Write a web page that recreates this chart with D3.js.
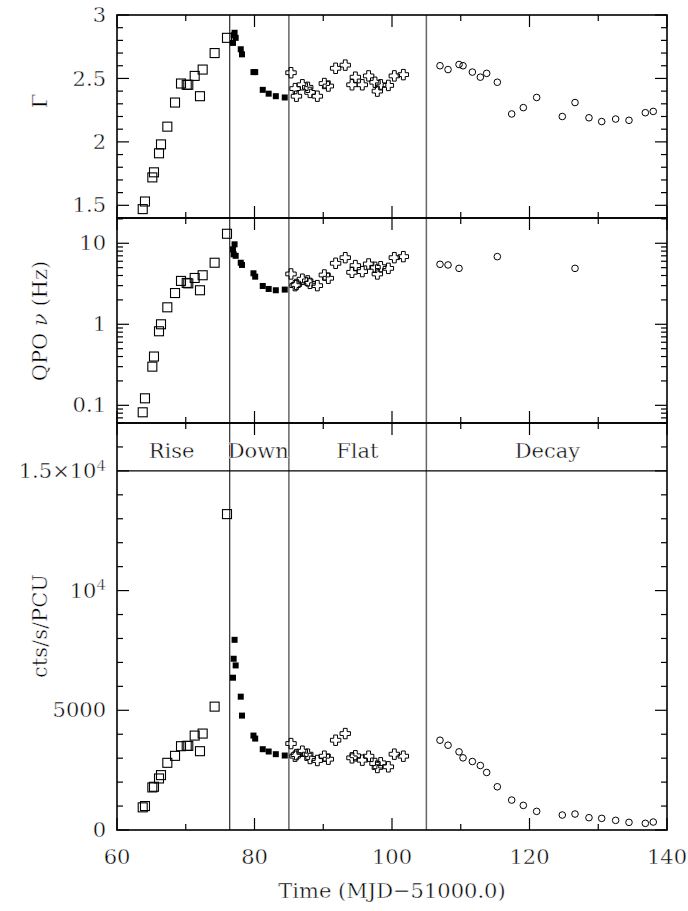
<!DOCTYPE html>
<html>
<head>
<meta charset="utf-8">
<script src="https://cdn.jsdelivr.net/npm/d3@7"></script>
<style>
  body { margin: 0; background: #fff; }
  text { fill: #000; stroke: #fff; stroke-width: 0.45px; }
</style>
</head>
<body>
<svg id="chart" width="688" height="911"></svg>
<script>
// ---- Outburst phases: time (MJD-51000.0), photon index, QPO frequency, count rate ----

// Rise (open squares)
const riseTime  = [63.74, 64.07, 65.14, 65.38, 66.11, 66.40, 67.32, 68.44, 69.31, 70.14, 70.37, 71.30, 72.07, 72.46, 74.20, 76.00];
const riseGamma = [1.47, 1.53, 1.72, 1.76, 1.91, 1.98, 2.12, 2.31, 2.46, 2.45, 2.45, 2.52, 2.36, 2.57, 2.70, 2.82];
const riseQPO   = [0.082, 0.122, 0.30, 0.40, 0.82, 1.0, 1.62, 2.43, 3.43, 3.24, 3.2, 3.73, 2.63, 4.03, 5.75, 13.1];
const riseRate  = [946, 1000, 1778, 1806, 2153, 2292, 2806, 3097, 3500, 3514, 3514, 3944, 3292, 4028, 5153, 13194];

// Down (filled squares)
const downTime  = [76.87, 76.97, 77.10, 77.26, 78.00, 78.18, 79.85, 80.10, 81.20, 82.06, 83.10, 84.40];
const downGamma = [2.78, 2.84, 2.86, 2.82, 2.73, 2.69, 2.55, 2.55, 2.41, 2.38, 2.36, 2.35];
const downQPO   = [8.4, 7.3, 9.7, 7.0, 5.75, 5.4, 4.26, 3.87, 2.97, 2.73, 2.63, 2.68];
const downRate  = [6361, 7153, 7944, 6875, 5569, 4778, 3944, 3819, 3375, 3278, 3167, 3111];

// Flat (open crosses)
const flatTime  = [85.31, 85.90, 86.10, 86.96, 87.74, 88.07, 89.14, 90.16, 90.74, 91.80, 93.20, 94.18, 94.67, 95.68, 96.60, 97.53, 97.87, 98.35, 99.47, 100.34, 101.65];
const flatGamma = [2.545, 2.42, 2.36, 2.45, 2.43, 2.39, 2.36, 2.46, 2.44, 2.58, 2.605, 2.45, 2.51, 2.45, 2.52, 2.47, 2.40, 2.45, 2.445, 2.52, 2.53];
const flatQPO   = [4.18, 3.0, 3.1, 3.6, 3.43, 3.2, 3.0, 4.06, 3.70, 5.66, 6.64, 4.38, 5.3, 4.47, 5.55, 5.05, 4.18, 5.14, 4.9, 6.64, 6.84];
const flatRate  = [3611, 3083, 3150, 3292, 3167, 2986, 2903, 3083, 2958, 3750, 4028, 3014, 3100, 2917, 3083, 2778, 2611, 2806, 2639, 3167, 3083];

// Decay (open circles); QPO detected only on some days
const decayTime  = [106.98, 108.15, 109.75, 110.33, 111.69, 112.85, 113.77, 115.32, 117.41, 119.10, 121.04, 124.77, 126.62, 128.65, 130.50, 132.53, 134.47, 136.85, 138.00];
const decayGamma = [2.60, 2.57, 2.61, 2.60, 2.55, 2.51, 2.54, 2.47, 2.22, 2.27, 2.35, 2.20, 2.31, 2.19, 2.16, 2.18, 2.17, 2.23, 2.24];
const decayQPO   = [5.5, 5.4, 4.9, null, null, null, null, 6.84, null, null, null, null, 4.9, null, null, null, null, null, null];
const decayRate  = [3750, 3542, 3264, 3014, 2861, 2694, 2403, 1806, 1250, 1028, 778, 625, 667, 514, 486, 403, 319, 278, 333];

// Phase boundaries and labels
const phaseBounds  = [76.4, 85, 105];
const phaseNames   = ["Rise", "Down", "Flat", "Decay"];
const phaseCenters = [67.95, 80.55, 94.95, 122.6];

// Tick label lists
const timeTicks    = [60, 80, 100, 120, 140];
const gammaTicks   = [1.5, 2, 2.5, 3];
const qpoTicks     = [0.1, 1, 10];
const rateTicks    = [0, 5000, 10000, 15000];
const rateTickText = ["0", "5000", "10^4", "1.5×10^4"];

// ---- Layout ----
const svg = d3.select("#chart");
const L = 117, R = 667;
const P1 = {top: 15, bottom: 218};
const P2 = {top: 218, bottom: 423};
const P3 = {top: 423, bottom: 830};
const font = "DejaVu Serif";
const FS = 21;

const x  = d3.scaleLinear().domain([60, 140]).range([L, R]);
const yG = d3.scaleLinear().domain([1.4, 3.0]).range([P1.bottom, P1.top]);
const yQ = d3.scaleLog().domain([0.0605, 20.5]).range([P2.bottom, P2.top]);
const yC = d3.scaleLinear().domain([0, 17000]).range([P3.bottom, P3.top]);

const MAJ = 12, MIN = 6;

function xTicks(p, labels) {
  const g = svg.append("g").attr("stroke", "#000").attr("stroke-width", 1.2);
  for (let t = 60; t <= 140; t += 10) {
    const len = (t % 20 === 0) ? MAJ : MIN;
    g.append("line").attr("x1", x(t)).attr("x2", x(t)).attr("y1", p.bottom).attr("y2", p.bottom - len);
    g.append("line").attr("x1", x(t)).attr("x2", x(t)).attr("y1", p.top).attr("y2", p.top + len);
  }
  if (labels) {
    svg.append("g").selectAll("text").data(timeTicks).join("text")
      .attr("x", d => x(d)).attr("y", p.bottom + 34)
      .attr("text-anchor", "middle")
      .attr("font-family", font).attr("font-size", FS)
      .text(d => d);
  }
}

function yTick(yv, len) {
  const g = svg.append("g").attr("stroke", "#000").attr("stroke-width", 1.2);
  g.append("line").attr("x1", L).attr("x2", L + len).attr("y1", yv).attr("y2", yv);
  g.append("line").attr("x1", R).attr("x2", R - len).attr("y1", yv).attr("y2", yv);
}

function yLabel(yv, txt) {
  svg.append("text").attr("x", 106).attr("y", yv).attr("dy", "0.34em")
    .attr("text-anchor", "end").attr("font-family", font).attr("font-size", FS)
    .text(txt);
}

// Panel 1 ticks: photon index
for (let i = 14; i <= 30; i++) {
  const v = i / 10;
  yTick(yG(v), (i % 5 === 0) ? MAJ : MIN);
}
gammaTicks.forEach(v => yLabel(yG(v), String(v)));

// Panel 2 ticks: log QPO frequency
[0.01, 0.1, 1, 10].forEach(dec => {
  for (let m = 1; m <= 9; m++) {
    const v = dec * m;
    if (v < yQ.domain()[0] || v > yQ.domain()[1]) continue;
    yTick(yQ(v), m === 1 ? MAJ : MIN);
  }
});
qpoTicks.forEach(v => yLabel(yQ(v), String(v)));

// Panel 3 ticks: count rate
for (let v = 0; v <= 17000; v += 1000) {
  yTick(yC(v), (v % 5000 === 0) ? MAJ : MIN);
}
rateTicks.forEach((v, i) => {
  const s = rateTickText[i];
  const t = svg.append("text").attr("x", 106).attr("y", yC(v)).attr("dy", "0.34em")
    .attr("text-anchor", "end").attr("font-family", font).attr("font-size", FS);
  if (s.includes("^")) {
    const [base, exp] = s.split("^");
    t.append("tspan").text(base);
    t.append("tspan").attr("dy", "-0.5em").attr("font-size", 15).text(exp);
  } else {
    t.text(s);
  }
});

xTicks(P1, false);
xTicks(P2, false);
xTicks(P3, true);

// Phase boundary lines
svg.append("line").attr("x1", x(phaseBounds[0])).attr("x2", x(phaseBounds[0]))
  .attr("y1", P1.top).attr("y2", P3.bottom).attr("stroke", "#000").attr("stroke-width", 1);
phaseBounds.slice(1).forEach(b => {
  svg.append("line").attr("x1", x(b)).attr("x2", x(b))
    .attr("y1", P1.top).attr("y2", P3.bottom).attr("stroke", "#666").attr("stroke-width", 1.5);
});

// Separator at 1.5x10^4 cts/s/PCU
svg.append("line").attr("x1", L).attr("x2", R).attr("y1", yC(15000)).attr("y2", yC(15000))
  .attr("stroke", "#000").attr("stroke-width", 1.2);

// Phase names
svg.append("g").selectAll("text").data(phaseNames).join("text")
  .attr("x", (d, i) => x(phaseCenters[i])).attr("y", 458)
  .attr("text-anchor", "middle").attr("font-family", font).attr("font-size", FS)
  .text(d => d);

// Frames
[P1, P2, P3].forEach(p => {
  svg.append("rect").attr("x", L).attr("y", p.top).attr("width", R - L).attr("height", p.bottom - p.top)
    .attr("fill", "none").attr("stroke", "#000").attr("stroke-width", 1.6);
});

// ---- Markers ----
const crossPath = (() => {
  const a = 5.2, w = 1.9;
  return `M${-w},${-a}L${w},${-a}L${w},${-w}L${a},${-w}L${a},${w}L${w},${w}L${w},${a}L${-w},${a}L${-w},${w}L${-a},${w}L${-a},${-w}L${-w},${-w}Z`;
})();

function drawMarkers(times, vals, yScale, kind) {
  const pts = times.map((t, i) => [t, vals[i]]).filter(d => d[1] !== null);
  const g = svg.append("g");
  if (kind === "open") {
    g.selectAll("rect").data(pts).join("rect")
      .attr("x", d => x(d[0]) - 4.5).attr("y", d => yScale(d[1]) - 4.5)
      .attr("width", 9).attr("height", 9)
      .attr("fill", "none").attr("stroke", "#000").attr("stroke-width", 1.1);
  } else if (kind === "filled") {
    g.selectAll("rect").data(pts).join("rect")
      .attr("x", d => x(d[0]) - 3).attr("y", d => yScale(d[1]) - 3)
      .attr("width", 6).attr("height", 6).attr("fill", "#000");
  } else if (kind === "cross") {
    g.selectAll("path").data(pts).join("path")
      .attr("d", crossPath)
      .attr("transform", d => `translate(${x(d[0])},${yScale(d[1])})`)
      .attr("fill", "none").attr("stroke", "#000").attr("stroke-width", 1);
  } else {
    g.selectAll("circle").data(pts).join("circle")
      .attr("cx", d => x(d[0])).attr("cy", d => yScale(d[1])).attr("r", 3.3)
      .attr("fill", "none").attr("stroke", "#000").attr("stroke-width", 1);
  }
}

drawMarkers(riseTime, riseGamma, yG, "open");
drawMarkers(downTime, downGamma, yG, "filled");
drawMarkers(flatTime, flatGamma, yG, "cross");
drawMarkers(decayTime, decayGamma, yG, "circle");

drawMarkers(riseTime, riseQPO, yQ, "open");
drawMarkers(downTime, downQPO, yQ, "filled");
drawMarkers(flatTime, flatQPO, yQ, "cross");
drawMarkers(decayTime, decayQPO, yQ, "circle");

drawMarkers(riseTime, riseRate, yC, "open");
drawMarkers(downTime, downRate, yC, "filled");
drawMarkers(flatTime, flatRate, yC, "cross");
drawMarkers(decayTime, decayRate, yC, "circle");

// ---- Axis titles ----
svg.append("text").attr("x", (L + R) / 2).attr("y", 898)
  .attr("text-anchor", "middle").attr("font-family", font).attr("font-size", FS)
  .text("Time (MJD−51000.0)");

function yTitle(cy) {
  return svg.append("text").attr("transform", `translate(47,${cy}) rotate(-90)`)
    .attr("text-anchor", "middle").attr("font-family", font).attr("font-size", FS);
}
yTitle(101).text("Γ");
const q = yTitle(321);
q.append("tspan").text("QPO ");
q.append("tspan").attr("font-style", "italic").text("ν");
q.append("tspan").text(" (Hz)");
yTitle(626).text("cts/s/PCU");
</script>
</body>
</html>
